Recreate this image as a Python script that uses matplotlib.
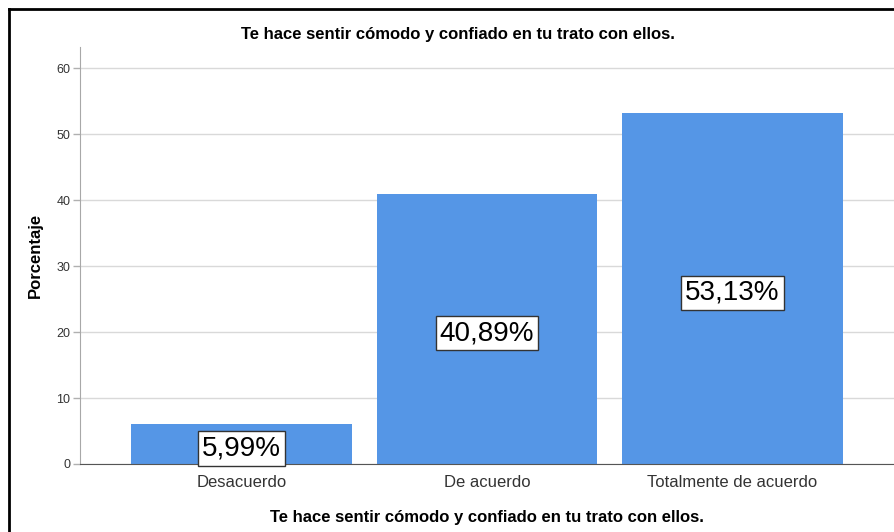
import matplotlib
matplotlib.use("Agg")
import matplotlib.pyplot as plt
from matplotlib.lines import Line2D

plt.rcParams['font.family'] = ['Liberation Sans', 'DejaVu Sans']

# data
categories = ["Desacuerdo", "De acuerdo", "Totalmente de acuerdo"]
percentages = [5.99, 40.89, 53.13]
value_labels = ["5,99%", "40,89%", "53,13%"]
y_ticks = [0, 10, 20, 30, 40, 50, 60]
title = "Te hace sentir cómodo y confiado en tu trato con ellos."

W, H = 894, 532
fig = plt.figure(figsize=(W / 100, H / 100), dpi=100)
ax = fig.add_axes([80 / W, 1 - 464 / H, 1 - 80 / W, (464 - 47) / H])

x = list(range(len(categories)))
ax.bar(x, percentages, width=0.9, color="#5596e6", zorder=2)

ax.set_xlim(-0.658, 2.658)
ax.set_ylim(0, 63.2)
ax.set_yticks(y_ticks)
ax.set_yticklabels([str(t) for t in y_ticks], fontsize=9, color="#333333")
ax.set_xticks(x)
ax.set_xticklabels(categories, fontsize=12, color="#333333")
ax.tick_params(axis="x", length=0, pad=8)
ax.tick_params(axis="y", length=5, color="#b0b0b0", width=1, pad=2)

ax.grid(axis="y", color="#d9d9d9", linewidth=1, zorder=0)
ax.set_axisbelow(True)
for s in ["top", "right"]:
    ax.spines[s].set_visible(False)
ax.spines["left"].set_color("#a8a8a8")
ax.spines["bottom"].set_color("#555555")

# value labels in boxes, centred a little below half height
for xi, v, lab in zip(x, percentages, value_labels):
    ax.annotate(lab, (xi, v / 2), xytext=(0, -3), textcoords="offset points",
                ha="center", va="center", fontsize=20, color="black",
                bbox=dict(boxstyle="square,pad=0.15", facecolor="white", edgecolor="#333333", linewidth=1),
                zorder=3)

ax.set_xlabel(title, fontsize=12, fontweight="bold", labelpad=14)
ax.set_ylabel("Porcentaje", fontsize=12, fontweight="bold", labelpad=10)
fig.text(458 / W, 1 - 34 / H, title, ha="center", va="center", fontsize=12, fontweight="bold")

# outer frame (top and left edges visible in the crop)
fig.add_artist(Line2D([9 / W, 1], [1 - 9 / H, 1 - 9 / H], color="black", linewidth=2))
fig.add_artist(Line2D([9 / W, 9 / W], [0, 1 - 9 / H], color="black", linewidth=2))

fig.savefig("out.png", dpi=100)
